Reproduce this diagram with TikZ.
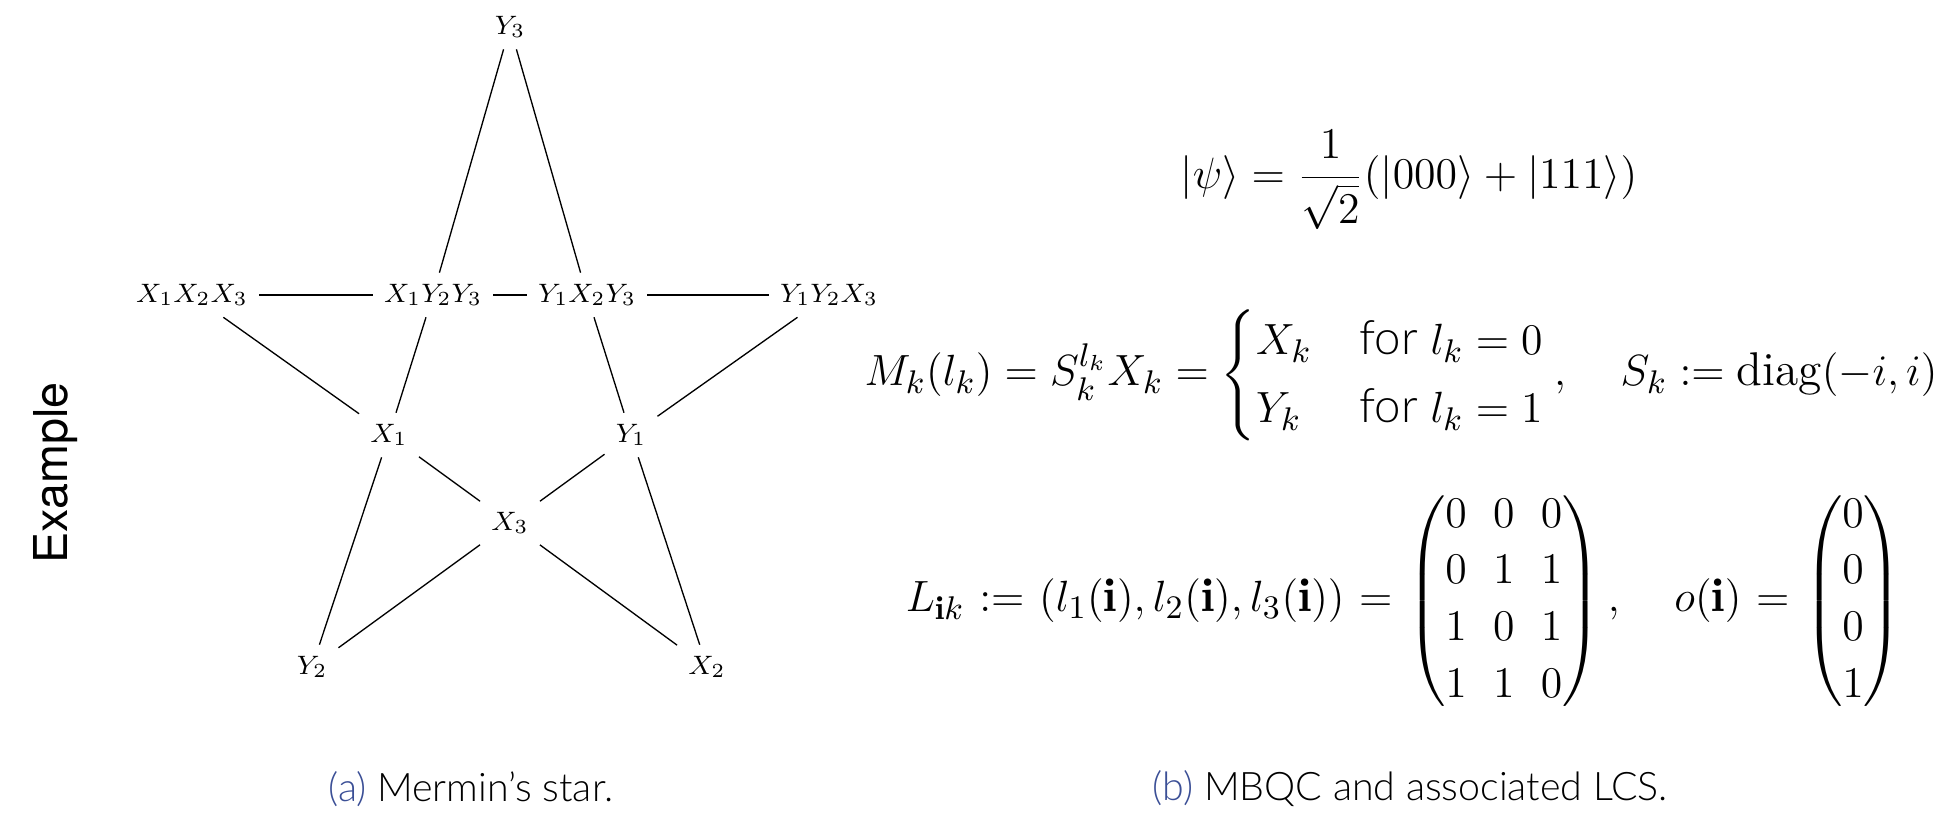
\documentclass[tikz,border=0pt]{standalone}
\usepackage{amsmath}
\usepackage{graphicx}
\usepackage{fontspec}
\IfFontExistsTF{Lato Light}{\newfontfamily\latofont{Lato Light}}{\newfontfamily\latofont{Lato}}
\newfontfamily\herosfont{TeX Gyre Heros}
\definecolor{capblue}{RGB}{59,79,150}
\begin{document}
\begin{tikzpicture}[x=0.3pt,y=-0.3pt,
  lbl/.style={font=\fontsize{8.5}{10}\selectfont, inner sep=3.2pt},
  eq/.style={font=\fontsize{13}{15.6}\selectfont, inner sep=0pt},
  captxt/.style={font=\latofont\fontsize{11.8}{14}\selectfont, inner sep=0pt, anchor=west},
  link/.style={line width=0.4pt}]
\useasboundingbox (0,0) rectangle (1949,823);
% star labels
\node[lbl] (Y3) at (510,27) {$Y_3$};
\node[lbl] (X1X2X3) at (192,295) {$X_1X_2X_3$};
\node[lbl] (X1Y2Y3) at (433,295) {$X_1Y_2Y_3$};
\node[lbl] (Y1X2Y3) at (587,295) {$Y_1X_2Y_3$};
\node[lbl] (Y1Y2X3) at (829,295) {$Y_1Y_2X_3$};
\node[lbl] (X1) at (389,435) {$X_1$};
\node[lbl] (Y1) at (631,435) {$Y_1$};
\node[lbl] (X3) at (510,523) {$X_3$};
\node[lbl] (Y2) at (312,667) {$Y_2$};
\node[lbl] (X2) at (707,667) {$X_2$};
% star edges
\draw[link] (X1X2X3) -- (X1Y2Y3) -- (Y1X2Y3) -- (Y1Y2X3);
\draw[link] (Y3) -- (X1Y2Y3) -- (X1) -- (Y2);
\draw[link] (Y3) -- (Y1X2Y3) -- (Y1) -- (X2);
\draw[link] (X1X2X3) -- (X1) -- (X3) -- (X2);
\draw[link] (Y1Y2X3) -- (Y1) -- (X3) -- (Y2);
% side title
\node[font=\herosfont\fontsize{14}{16}\selectfont, rotate=90, inner sep=0pt] (ex) at (56,473) {Example};
% equations
\node[eq] (psi) at (1409,180) {\resizebox{137pt}{!}{$\displaystyle |\psi\rangle = \frac{1}{\sqrt{2}}(|000\rangle + |111\rangle)$}};
\node[eq] (meas) at (1401,375) {\resizebox{321.9pt}{!}{$\displaystyle M_k(l_k) = S_k^{l_k}X_k = \begin{cases} X_k & \text{\latofont for } l_k = 0\\ Y_k & \text{\latofont for } l_k = 1\end{cases}, \quad S_k := \operatorname{diag}(-i,i)$}};
\node[eq] (lcs) at (1404,601) {\resizebox{298.8pt}{!}{$\thickmuskip=6mu plus 3mu\setlength{\arraycolsep}{3.6pt}\renewcommand{\arraystretch}{1.0}\displaystyle L_{\mathbf{i}k} := (l_1(\mathbf{i}), l_2(\mathbf{i}), l_3(\mathbf{i})) = \begin{pmatrix}0&0&0\\0&1&1\\1&0&1\\1&1&0\end{pmatrix}, \quad o(\mathbf{i}) = \begin{pmatrix}0\\0\\0\\1\end{pmatrix}$}};
% captions
\node[captxt] (capa) at (328,789) {\textcolor{capblue}{(a)} Mermin’s star.};
\node[captxt] (capb) at (1152,789) {\textcolor{capblue}{(b)} MBQC and associated LCS.};
\end{tikzpicture}
\end{document}
